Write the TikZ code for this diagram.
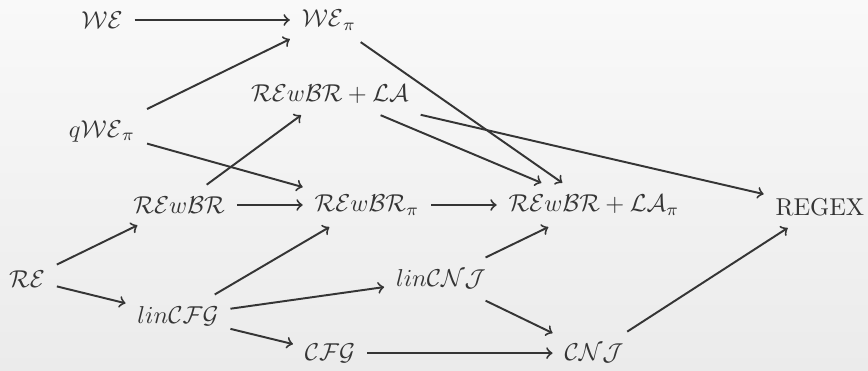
\documentclass[tikz,border=0pt]{standalone}
\usepackage{amsmath}
\definecolor{fg}{HTML}{353535}
\definecolor{bgtop}{HTML}{F9F9F9}
\definecolor{bgbot}{HTML}{EBEBEB}

\begin{document}
\begin{tikzpicture}[color=fg, line width=0.8pt, >=to,
  every node/.style={inner sep=4.5pt}]
\shade[top color=bgtop, bottom color=bgbot] (0,0) rectangle (12.5,5.342);
\useasboundingbox (0,0) rectangle (12.5,5.342);
\node (we) at (1.469,5.054) {$\mathcal{WE}$};
\node (wepi) at (4.738,5.054) {$\mathcal{WE}_\pi$};
\node (rewbrla) at (4.752,3.99) {$\mathcal{RE}w\mathcal{BR}+\mathcal{LA}$};
\node (qwe) at (1.469,3.455) {$q\mathcal{WE}_\pi$};
\node (rewbr) at (2.58,2.39) {$\mathcal{RE}w\mathcal{BR}$};
\node (rewbrpi) at (5.285,2.39) {$\mathcal{RE}w\mathcal{BR}_\pi$};
\node (rewbrlapi) at (8.554,2.39) {$\mathcal{RE}w\mathcal{BR}+\mathcal{LA}_\pi$};
\node (regex) at (11.808,2.36) {REGEX};
\node (re) at (0.389,1.323) {$\mathcal{RE}$};
\node (lincnj) at (6.35,1.323) {$lin\mathcal{CNJ}$};
\node (lincfg) at (2.563,0.79) {$lin\mathcal{CFG}$};
\node (cfg) at (4.752,0.257) {$\mathcal{CFG}$};
\node (cnj) at (8.554,0.257) {$\mathcal{CNJ}$};
\draw[->] (we) -- (wepi);
\draw[->] (qwe) -- (wepi);
\draw[->] (qwe) -- (rewbrpi);
\draw[->] (wepi) -- (rewbrlapi);
\draw[->] (rewbrla) -- (rewbrlapi);
\draw[->] (rewbrla) -- (regex);
\draw[->] (rewbr) -- (rewbrla);
\draw[->] (rewbr) -- (rewbrpi);
\draw[->] (rewbrpi) -- (rewbrlapi);
\draw[->] (re) -- (rewbr);
\draw[->] (re) -- (lincfg);
\draw[->] (lincfg) -- (rewbrpi);
\draw[->] (lincfg) -- (lincnj);
\draw[->] (lincfg) -- (cfg);
\draw[->] (lincnj) -- (rewbrlapi);
\draw[->] (lincnj) -- (cnj);
\draw[->] (cfg) -- (cnj);
\draw[->] (cnj) -- (regex);
\end{tikzpicture}
\end{document}
